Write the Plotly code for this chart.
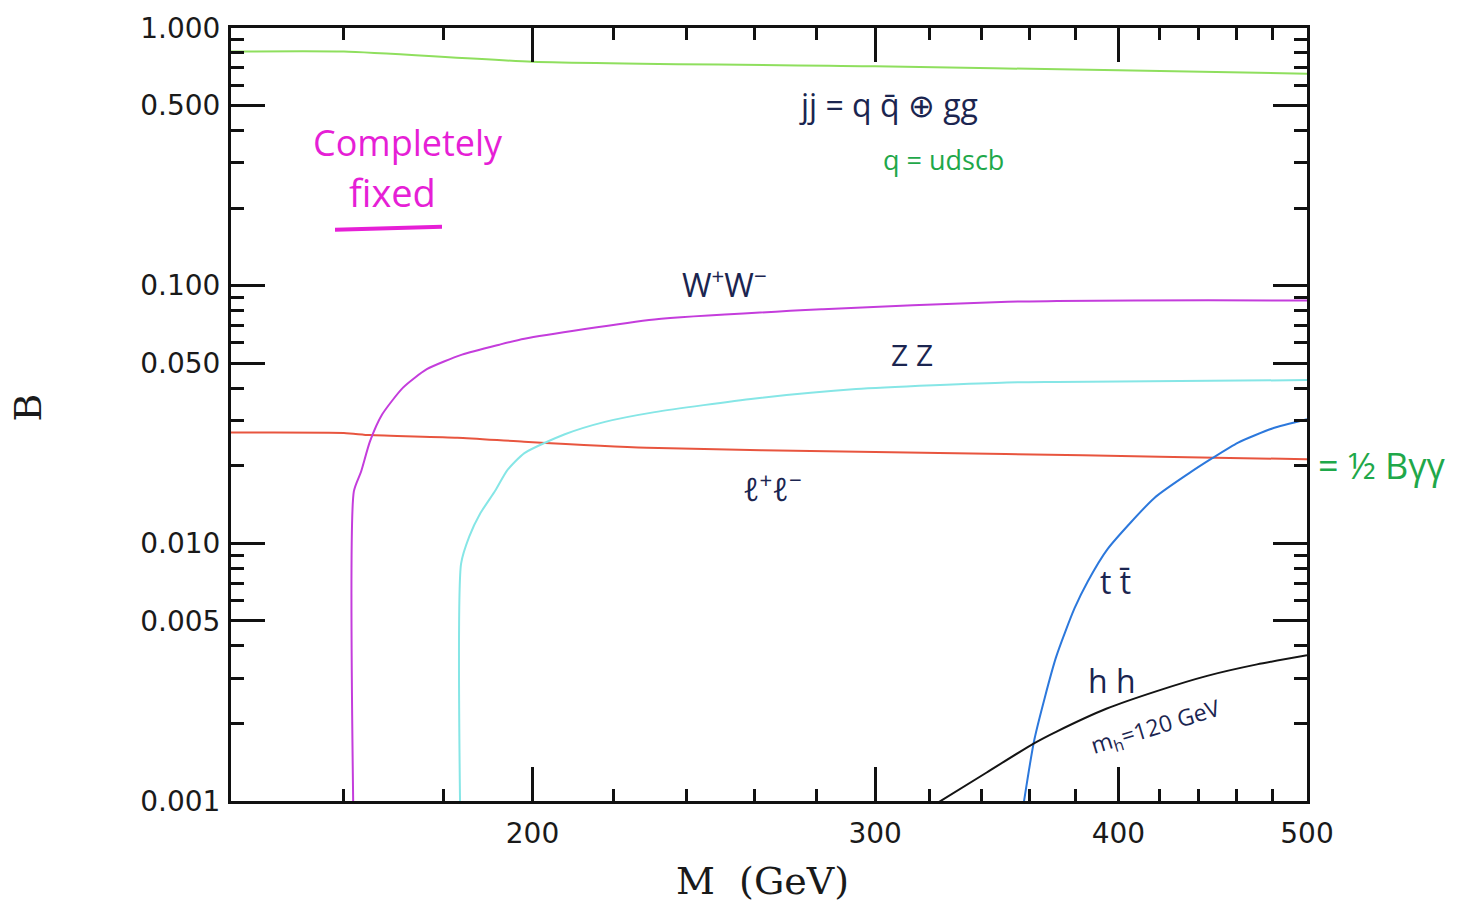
import plotly.graph_objects as go
import math

# ---------------- data ----------------
m_jj = [140, 160, 200, 300, 400, 500]
b_jj = [0.81, 0.81, 0.74, 0.71, 0.685, 0.665]

m_ll = [140, 160, 165, 183, 198, 229, 300, 350, 420, 500]
b_ll = [0.0269, 0.0268, 0.0263, 0.0257, 0.0248, 0.0235, 0.0226, 0.0222, 0.0217, 0.0212]

m_ww = [161.8, 161.9, 163.3, 165.0, 167.4, 171.6, 176.5, 184.0, 192.3, 198.1, 231, 282, 351, 372, 445, 500]
b_ww = [0.0009, 0.0159, 0.0190, 0.0248, 0.0316, 0.0402, 0.0474, 0.0540, 0.0590, 0.0622, 0.0739, 0.0810, 0.0867, 0.0871, 0.0878, 0.0875]

m_zz = [183.6, 183.8, 185.6, 188.0, 191.4, 194.1, 198.1, 207.8, 217.9, 231.1, 260.3, 293.3, 350.6, 372, 500]
b_zz = [0.0009, 0.00834, 0.01064, 0.01305, 0.01603, 0.0192, 0.0224, 0.0265, 0.0296, 0.0323, 0.0365, 0.0397, 0.0421, 0.0423, 0.0430]

m_tt = [357, 362.2, 371.5, 379.8, 385.7, 394.9, 417.4, 434.4, 447, 460.9, 479.9, 500]
b_tt = [0.0009, 0.00174, 0.0036, 0.0056, 0.0071, 0.0095, 0.0150, 0.0186, 0.0214, 0.0246, 0.0279, 0.0303]

m_hh = [322, 342.3, 361.8, 371.8, 394.3, 418.6, 444.3, 471.3, 500]
b_hh = [0.00097, 0.00129, 0.00167, 0.00186, 0.00228, 0.00267, 0.00306, 0.00339, 0.00368]

x_major = [200, 300, 400, 500]
x_major_text = ["200", "300", "400", "500"]
x_minor = [160, 180, 220, 240, 260, 280, 320, 340, 360, 380, 420, 440, 460, 480]

y_major = [0.001, 0.005, 0.01, 0.05, 0.1, 0.5, 1.0]
y_major_text = ["0.001", "0.005", "0.010", "0.050", "0.100", "0.500", "1.000"]
y_minor = [0.002, 0.003, 0.004, 0.006, 0.007, 0.008, 0.009,
           0.02, 0.03, 0.04, 0.06, 0.07, 0.08, 0.09,
           0.2, 0.3, 0.4, 0.6, 0.7, 0.8, 0.9]

series = [
    (m_jj, b_jj, "#8fdf5e"),
    (m_ll, b_ll, "#e8553f"),
    (m_ww, b_ww, "#c43ddc"),
    (m_zz, b_zz, "#86e6e6"),
    (m_tt, b_tt, "#2c78dc"),
    (m_hh, b_hh, "#141414"),
]

# ---------------- figure ----------------
W, H = 1470, 919
L, R, T, B = 231, 163, 23, 118
pw, ph = W - L - R, H - T - B

def px(xp):
    return (xp - L) / pw

def py(yp):
    return (H - B - yp) / ph

fig = go.Figure()
for mx, by, col in series:
    fig.add_trace(go.Scatter(x=mx, y=by, mode="lines",
                             line=dict(color=col, width=2, shape="spline", smoothing=0.6),
                             showlegend=False, hoverinfo="skip"))

axis_common = dict(
    showline=True, linecolor="#111", linewidth=3, mirror="ticks",
    ticks="inside", ticklen=34, tickwidth=2.5, tickcolor="#111",
    showgrid=False, zeroline=False,
    tickfont=dict(family="DejaVu Sans", size=28, color="#1a1a1a"),
)

fig.update_layout(
    width=W, height=H,
    margin=dict(l=L, r=R, t=T, b=B),
    paper_bgcolor="white", plot_bgcolor="white",
    xaxis=dict(type="log", range=[math.log10(140), math.log10(500)],
               tickmode="array", tickvals=x_major, ticktext=x_major_text,
               ticklabelstandoff=5,
               minor=dict(tickmode="array", tickvals=x_minor, ticks="inside",
                          ticklen=12, tickwidth=2.5, tickcolor="#111", showgrid=False),
               **axis_common),
    yaxis=dict(type="log", range=[-3, 0],
               tickmode="array", tickvals=y_major, ticktext=y_major_text,
               ticklabelstandoff=2,
               minor=dict(tickmode="array", tickvals=y_minor, ticks="inside",
                          ticklen=13, tickwidth=2.5, tickcolor="#111", showgrid=False),
               **axis_common),
)

navy = "#1b2550"
green = "#1fa84a"
mag = "#e61fd6"
hand = "Open Sans"

ann = [
    ("Completely", 408, 138, mag, 36, 0, hand),
    ("fixed", 392, 188, mag, 38, 0, hand),
    ("jj = q q̄ ⊕ gg", 888, 100, navy, 32, 0, hand),
    ("q = udscb", 943, 155, green, 27, 0, hand),
    ("W<sup>+</sup>W<sup>−</sup>", 724, 280, navy, 32, 0, hand),
    ("Z Z", 912, 352, navy, 30, 0, hand),
    ("ℓ<sup>+</sup>ℓ<sup>−</sup>", 772, 485, navy, 32, 0, hand),
    ("t t̄", 1115, 580, navy, 32, 0, hand),
    ("h h", 1112, 680, navy, 32, 0, hand),
    ("m<sub>h</sub>=120 GeV", 1155, 727, navy, 23, -17, hand),
    ("= ½ Bγγ", 1382, 463, green, 36, 0, hand),
    ("B", 28, 405, "#1a1a1a", 38, -90, "DejaVu Serif"),
    ("M  (GeV)", 762, 882, "#1a1a1a", 38, 0, "DejaVu Serif"),
]
for text, x0, y0, col, size, ang, fam in ann:
    fig.add_annotation(text=text, x=px(x0), y=py(y0), xref="paper", yref="paper",
                       showarrow=False, xanchor="center", yanchor="middle",
                       textangle=ang, font=dict(family=fam, size=size, color=col))

# underline of "fixed"
fig.add_shape(type="line", xref="paper", yref="paper",
              x0=px(335), y0=py(226), x1=px(442), y1=py(223),
              line=dict(color=mag, width=4))

fig.write_html("out.html")
